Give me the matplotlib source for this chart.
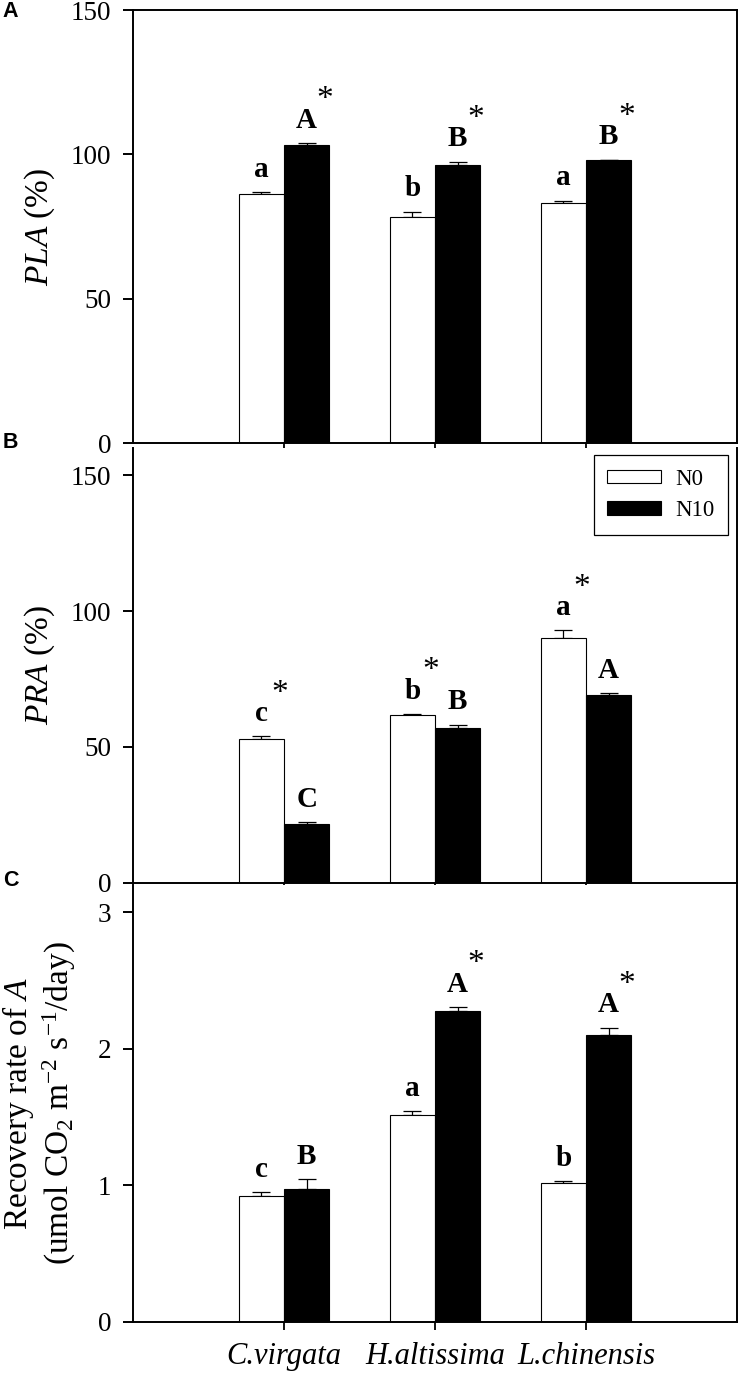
import numpy as np
import matplotlib
matplotlib.use('Agg')
import matplotlib.pyplot as plt

plt.rcParams['font.family'] = ['Liberation Serif', 'DejaVu Serif']
plt.rcParams['mathtext.fontset'] = 'custom'
plt.rcParams['mathtext.rm'] = 'Liberation Serif'
plt.rcParams['mathtext.it'] = 'Liberation Serif:italic'
plt.rcParams['mathtext.bf'] = 'Liberation Serif:bold'

species = ['C.virgata', 'H.altissima', 'L.chinensis']
treatments = ['N0', 'N10']

# PLA (%)
pla_n0 = [86.3, 78.4, 83.3]
pla_n0_se = [0.7, 1.8, 0.7]
pla_n10 = [103.2, 96.4, 98.0]
pla_n10_se = [0.7, 1.1, 0.2]
pla_n0_lett = ['a', 'b', 'a']
pla_n10_lett = ['A', 'B', 'B']
pla_n0_star = [False, False, False]
pla_n10_star = [True, True, True]

# PRA (%)
pra_n0 = [52.9, 61.8, 90.0]
pra_n0_se = [1.0, 0.3, 2.9]
pra_n10 = [21.7, 57.0, 69.1]
pra_n10_se = [0.6, 1.2, 0.6]
pra_n0_lett = ['c', 'b', 'a']
pra_n10_lett = ['C', 'B', 'A']
pra_n0_star = [True, True, True]
pra_n10_star = [False, False, False]

# recovery rate of A
rec_n0 = [0.92, 1.515, 1.02]
rec_n0_se = [0.03, 0.03, 0.01]
rec_n10 = [0.975, 2.275, 2.10]
rec_n10_se = [0.07, 0.03, 0.054]
rec_n0_lett = ['c', 'a', 'b']
rec_n10_lett = ['B', 'A', 'A']
rec_n0_star = [False, False, False]
rec_n10_star = [False, True, True]

x = np.arange(1, len(species) + 1)
w = 0.3

fig = plt.figure(figsize=(7.39, 13.81), dpi=100)

axA = fig.add_axes([0.18, 0.6792, 0.8173, 0.3135])
axB = fig.add_axes([0.18, 0.3608, 0.8173, 0.3148])
axC = fig.add_axes([0.18, 0.0429, 0.8173, 0.3163])


def panel(ax, n0, n0_se, n10, n10_se, l0, l10, s0, s10, ylim, yticks):
    b0 = ax.bar(x - w / 2, n0, w, color='white', edgecolor='black', linewidth=0.8, label=treatments[0], zorder=2)
    b1 = ax.bar(x + w / 2, n10, w, color='black', edgecolor='black', linewidth=0.8, label=treatments[1], zorder=2)
    ax.errorbar(x - w / 2, n0, yerr=[np.zeros(len(n0)), n0_se], fmt='none', ecolor='black',
                elinewidth=0.9, capsize=6.5, capthick=0.9, zorder=1)
    ax.errorbar(x + w / 2, n10, yerr=[np.zeros(len(n10)), n10_se], fmt='none', ecolor='black',
                elinewidth=0.9, capsize=6.5, capthick=0.9, zorder=1)
    for xs, vals, ses, letts, stars in [(x - w / 2, n0, n0_se, l0, s0), (x + w / 2, n10, n10_se, l10, s10)]:
        for xi, v, e, lt, st in zip(xs, vals, ses, letts, stars):
            ax.annotate(lt, (xi, v + e), xytext=(0, 11), textcoords='offset points',
                        ha='center', va='baseline', fontsize=21, fontweight='bold')
            if st:
                ax.annotate('*', (xi, v + e), xytext=(13, 25), textcoords='offset points',
                            ha='center', va='baseline', fontsize=24)
    ax.set_xlim(0, 4)
    ax.set_ylim(ylim)
    ax.set_yticks(yticks)
    ax.set_xticks(x)
    ax.tick_params(axis='y', direction='out', length=7.2, width=1.4, labelsize=19.5, pad=8.5)
    ax.tick_params(axis='x', direction='out', length=5.8, width=1.3, labelsize=22, pad=9)
    for s in ax.spines.values():
        s.set_linewidth(1.4)
    return b0, b1


panel(axA, pla_n0, pla_n0_se, pla_n10, pla_n10_se, pla_n0_lett, pla_n10_lett,
      pla_n0_star, pla_n10_star, (0, 150), [0, 50, 100, 150])
panel(axB, pra_n0, pra_n0_se, pra_n10, pra_n10_se, pra_n0_lett, pra_n10_lett,
      pra_n0_star, pra_n10_star, (0, 160), [0, 50, 100, 150])
panel(axC, rec_n0, rec_n0_se, rec_n10, rec_n10_se, rec_n0_lett, rec_n10_lett,
      rec_n0_star, rec_n10_star, (0, 3.2), [0, 1, 2, 3])

axB.spines['top'].set_visible(False)
axC.spines['top'].set_visible(False)
axA.set_xticklabels([])
axB.set_xticklabels([])
axC.set_xticklabels(species, fontstyle='italic')

leg = axB.legend(loc='upper right', bbox_to_anchor=(0.985, 0.984), fontsize=16.5,
                 frameon=True, fancybox=False, edgecolor='black', framealpha=1,
                 handlelength=2.35, handleheight=0.55, handletextpad=0.6,
                 borderpad=0.6, labelspacing=0.45, borderaxespad=0)
leg.get_frame().set_linewidth(0.9)

fig.text(0.054, 0.6792 + 0.3135 / 2, r'$\mathit{PLA}$ (%)', rotation=90, ha='center', va='center', fontsize=24)
fig.text(0.054, 0.3608 + 0.3148 / 2, r'$\mathit{PRA}$ (%)', rotation=90, ha='center', va='center', fontsize=24)
fig.text(0.053, 0.0429 + 0.3163 / 2,
         'Recovery rate of $\\mathit{A}$\n(umol CO$_2$ m$^{-2}$ s$^{-1}$/day)',
         rotation=90, ha='center', va='center', fontsize=24, multialignment='center')

for lab, yy in [('A', 1 - 11.5 / 1381), ('B', 1 - 443 / 1381), ('C', 1 - 880 / 1381)]:
    fig.text(0.004, yy, lab, ha='left', va='center', fontsize=15.5, fontweight='bold',
             family=['Liberation Sans', 'DejaVu Sans'])

fig.savefig('out.png', dpi=100)
